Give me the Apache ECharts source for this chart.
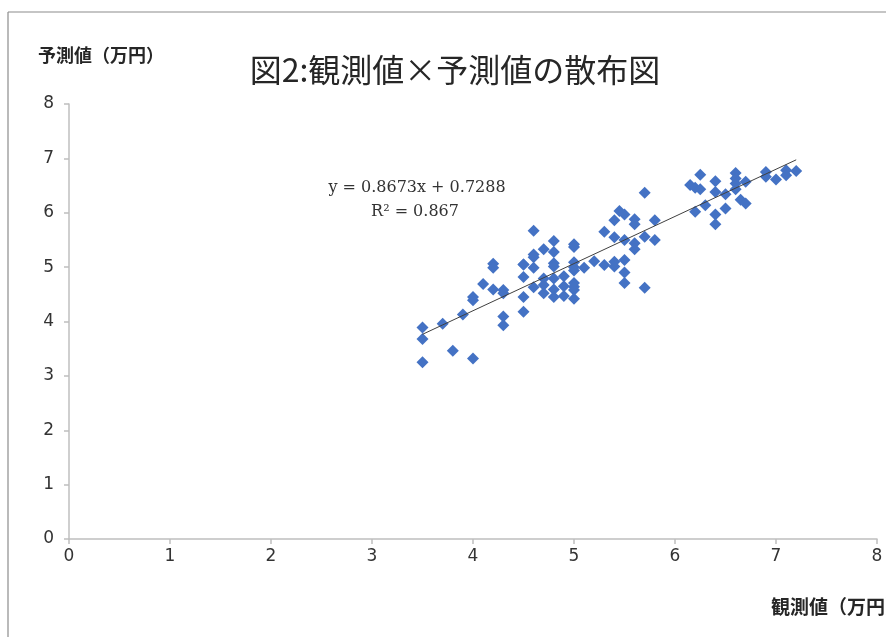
<!DOCTYPE html>
<html><head><meta charset="utf-8">
<script src="https://cdn.jsdelivr.net/npm/echarts@6/dist/echarts.min.js"></script>
<style>html,body{margin:0;padding:0;background:#fff}#c{width:886px;height:637px}</style>
</head><body><div id="c"></div>
<script>
const titleText = '図2:観測値×予測値の散布図';
const xName = '観測値（万円）';
const yName = '予測値（万円）';
const xTicks = [0,1,2,3,4,5,6,7,8];
const yTicks = [0,1,2,3,4,5,6,7,8];
const observed = [
 3.5,3.5,3.5,3.7,3.8,3.9,4.0,4.0,4.0,4.1,4.2,4.2,4.2,4.3,4.3,4.3,4.3,
 4.5,4.5,4.5,4.5,4.5,4.6,4.6,4.6,4.6,4.6,4.7,4.7,4.7,4.7,4.8,4.8,4.8,4.8,4.8,4.8,4.8,
 4.9,4.9,4.9,5.0,5.0,5.0,5.0,5.0,5.0,5.0,5.0,5.0,5.1,5.2,5.3,5.3,5.4,5.4,5.4,5.4,
 5.45,5.5,5.5,5.5,5.5,5.5,5.6,5.6,5.6,5.6,5.7,5.7,5.7,5.8,5.8,
 6.15,6.2,6.25,6.25,6.2,6.3,6.4,6.4,6.4,6.4,6.5,6.5,6.6,6.6,6.6,6.6,6.7,6.65,6.7,
 6.9,6.9,7.0,7.1,7.1,7.2
];
const predicted = [
 3.89,3.68,3.25,3.96,3.46,4.13,4.45,4.39,3.32,4.69,5.06,4.99,4.59,4.58,4.52,4.09,3.93,
 5.05,4.82,4.45,4.18,5.05,5.67,5.23,5.18,4.99,4.63,5.33,4.79,4.67,4.52,5.48,5.28,5.07,5.01,4.79,4.59,4.45,
 4.83,4.65,4.47,5.42,5.37,5.09,5.0,4.94,4.71,4.64,4.58,4.42,4.99,5.11,5.04,5.65,5.10,5.01,5.55,5.86,
 6.03,5.97,5.13,4.90,4.71,5.50,5.44,5.33,5.88,5.79,4.62,5.56,6.37,5.50,5.86,
 6.51,6.46,6.43,6.70,6.02,6.14,6.58,6.38,5.97,5.79,6.34,6.08,6.73,6.63,6.54,6.43,6.57,6.24,6.17,
 6.75,6.66,6.61,6.78,6.69,6.77
];
const trendSlope = 0.8673, trendIntercept = 0.7288, trendR2 = 0.867;

const pts = observed.map((x,i)=>[x,predicted[i]]);
const xmin = Math.min(...observed), xmax = Math.max(...observed);
const trend = [[xmin, trendSlope*xmin+trendIntercept],[xmax, trendSlope*xmax+trendIntercept]];

const chart = echarts.init(document.getElementById('c'), null, {renderer:'canvas'});
const axisGrey = '#bfbfbf';
const labelFont = {color:'#333333', fontSize:17, fontFamily:'DejaVu Sans'};
chart.setOption({
  animation:false,
  backgroundColor:'#fff',
  grid:{left:69,right:9,top:104,bottom:98},
  xAxis:{type:'value',min:0,max:8,interval:1,
    axisLine:{lineStyle:{color:axisGrey,width:1.5}},
    axisTick:{show:true,length:5,lineStyle:{color:axisGrey,width:1.5}},
    splitLine:{show:false},
    axisLabel:Object.assign({margin:9,formatter:v=>xTicks.includes(v)?String(v):''},labelFont)},
  yAxis:{type:'value',min:0,max:8,interval:1,
    axisLine:{show:true,lineStyle:{color:axisGrey,width:1.5}},
    axisTick:{show:true,length:5,lineStyle:{color:axisGrey,width:1.5}},
    splitLine:{show:false},
    axisLabel:Object.assign({margin:15,formatter:v=>yTicks.includes(v)?String(v):''},labelFont)},
  series:[
    {type:'scatter',data:pts,symbol:'diamond',symbolSize:12,itemStyle:{color:'#4472C4',opacity:1},z:2},
    {type:'line',data:trend,symbol:'none',lineStyle:{color:'#404040',width:1},z:3,silent:true}
  ],
  graphic:[
    {type:'line',shape:{x1:8,y1:12,x2:886,y2:12},style:{stroke:'#8c8c8c',lineWidth:1.2}},
    {type:'line',shape:{x1:8,y1:12,x2:8,y2:637},style:{stroke:'#8c8c8c',lineWidth:1.2}},
    {type:'text',x:455,y:70,style:{text:titleText,font:'32px "Noto Sans CJK JP"',fill:'#262626',align:'center',verticalAlign:'middle'}},
    {type:'text',left:38,top:46,style:{text:yName,font:'bold 18px "Noto Sans CJK JP"',fill:'#262626'}},
    {type:'text',left:771,top:597,style:{text:xName,font:'bold 19px "Noto Sans CJK JP"',fill:'#262626'}},
    {type:'text',x:417,y:188,style:{text:'y = '+trendSlope+'x + '+trendIntercept,font:'16px "DejaVu Serif"',fill:'#333333',align:'center',verticalAlign:'middle'}},
    {type:'text',x:415,y:212,style:{text:'R² = '+trendR2,font:'16px "DejaVu Serif"',fill:'#333333',align:'center',verticalAlign:'middle'}}
  ]
});
</script></body></html>
